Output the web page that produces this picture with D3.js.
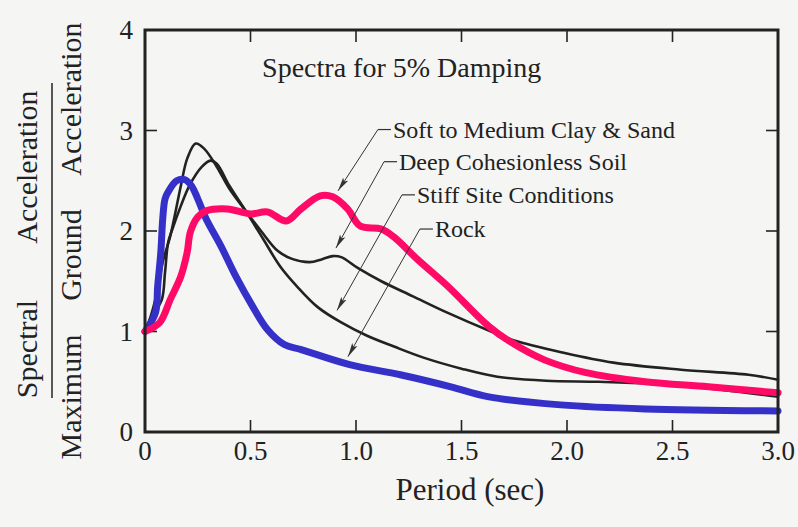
<!DOCTYPE html>
<html>
<head>
<meta charset="utf-8">
<script src="https://cdn.jsdelivr.net/npm/d3@7"></script>
<style>
  html, body { margin: 0; padding: 0; background: #f5f5f4; }
  svg { display: block; }
  text { font-family: "Liberation Serif", "DejaVu Serif", serif; fill: #222; }
</style>
</head>
<body>
<svg id="chart" width="798" height="527"></svg>
<script>
// Normalised response spectra (Sa / PGA) for 5% damping, by site condition.
// Each entry: [period (sec), spectral ratio]
const softClaySand = [
  [0, 1.0], [0.07, 1.09], [0.12, 1.32], [0.17, 1.55], [0.20, 1.79], [0.215, 1.99],
  [0.25, 2.14], [0.29, 2.20], [0.39, 2.22], [0.50, 2.17], [0.58, 2.19], [0.67, 2.10],
  [0.74, 2.22], [0.83, 2.35], [0.89, 2.34], [0.96, 2.22], [1.02, 2.05], [1.12, 2.02],
  [1.18, 1.94], [1.29, 1.72], [1.43, 1.46], [1.63, 1.05], [1.73, 0.90], [1.89, 0.72],
  [2.09, 0.59], [2.37, 0.50], [2.67, 0.45], [3.0, 0.39]
];
const deepCohesionless = [
  [0, 1.0], [0.03, 1.17], [0.06, 1.42], [0.085, 1.70], [0.12, 1.95], [0.17, 2.45],
  [0.20, 2.72], [0.24, 2.87], [0.28, 2.82], [0.34, 2.64], [0.40, 2.42], [0.47, 2.22],
  [0.55, 2.00], [0.63, 1.80], [0.70, 1.72], [0.78, 1.69], [0.84, 1.72], [0.89, 1.75],
  [0.93, 1.74], [1.01, 1.63], [1.12, 1.50], [1.27, 1.35], [1.43, 1.19], [1.64, 1.00],
  [1.75, 0.91], [1.98, 0.79], [2.22, 0.69], [2.54, 0.62], [2.86, 0.57], [3.0, 0.52]
];
const stiffSite = [
  [0, 1.0], [0.04, 1.17], [0.08, 1.32], [0.095, 1.59], [0.11, 1.89], [0.13, 2.02],
  [0.17, 2.25], [0.21, 2.45], [0.27, 2.64], [0.31, 2.70], [0.34, 2.67], [0.40, 2.45],
  [0.48, 2.19], [0.56, 1.92], [0.64, 1.65], [0.72, 1.45], [0.82, 1.24], [0.93, 1.09],
  [1.05, 0.96], [1.18, 0.85], [1.32, 0.74], [1.50, 0.63], [1.67, 0.55], [1.90, 0.51],
  [2.15, 0.50], [2.40, 0.48], [2.68, 0.43], [3.0, 0.35]
];
const rock = [
  [0, 1.0], [0.05, 1.19], [0.06, 1.45], [0.075, 1.79], [0.084, 2.12], [0.095, 2.32],
  [0.11, 2.39], [0.15, 2.50], [0.19, 2.51], [0.22, 2.45], [0.25, 2.32], [0.29, 2.12],
  [0.36, 1.85], [0.43, 1.55], [0.51, 1.25], [0.58, 1.02], [0.66, 0.87], [0.74, 0.82],
  [0.97, 0.67], [1.21, 0.57], [1.45, 0.45], [1.63, 0.35], [1.97, 0.27], [2.37, 0.23],
  [3.0, 0.21]
];

const xTicks = [0, 0.5, 1.0, 1.5, 2.0, 2.5, 3.0];
const xTickLabels = ["0", "0.5", "1.0", "1.5", "2.0", "2.5", "3.0"];
const yTicks = [0, 1, 2, 3, 4];
const yTickLabels = ["0", "1", "2", "3", "4"];

// Callout labels: text anchor and arrow tip, both in data units
const siteNames = ["Soft to Medium Clay & Sand", "Deep Cohesionless Soil", "Stiff Site Conditions", "Rock"];
const labelAnchors = [[1.175, 2.93], [1.204, 2.61], [1.289, 2.28], [1.374, 1.94]];
const arrowTips = [[0.915, 2.40], [0.905, 1.83], [0.91, 1.21], [0.962, 0.75]];

const titleText = "Spectra for 5% Damping";
const xTitle = "Period (sec)";

const svg = d3.select("#chart");
const W = 798, H = 527;
const plot = { left: 145, right: 778, top: 30, bottom: 432 };

const x = d3.scaleLinear().domain([0, 3]).range([plot.left, plot.right]);
const y = d3.scaleLinear().domain([0, 4]).range([plot.bottom, plot.top]);

svg.append("rect").attr("width", W).attr("height", H).attr("fill", "#f5f5f4");

const ink = "#222";
const tickLen = 12;

// Inner ticks on all four sides
const inner = svg.append("g").attr("stroke", ink).attr("stroke-width", 1.6);
xTicks.slice(1, -1).forEach(t => {
  inner.append("line").attr("x1", x(t)).attr("x2", x(t)).attr("y1", y(0)).attr("y2", y(0) - tickLen);
  inner.append("line").attr("x1", x(t)).attr("x2", x(t)).attr("y1", y(4)).attr("y2", y(4) + tickLen);
});
yTicks.slice(1, -1).forEach(t => {
  inner.append("line").attr("x1", x(0)).attr("x2", x(0) + tickLen).attr("y1", y(t)).attr("y2", y(t));
  inner.append("line").attr("x1", x(3)).attr("x2", x(3) - tickLen).attr("y1", y(t)).attr("y2", y(t));
});

// Tick labels
svg.append("g").selectAll("text").data(xTicks).join("text")
  .attr("x", d => x(d)).attr("y", 460)
  .attr("text-anchor", "middle").attr("font-size", 27)
  .text((d, i) => xTickLabels[i]);
svg.append("g").selectAll("text").data(yTicks).join("text")
  .attr("x", 133).attr("y", d => y(d) + 9)
  .attr("text-anchor", "end").attr("font-size", 27)
  .text((d, i) => yTickLabels[i]);

// Spectra curves
const line = d3.line().x(d => x(d[0])).y(d => y(d[1])).curve(d3.curveCatmullRom.alpha(0.5));
const curves = svg.append("g").attr("fill", "none").attr("stroke-linecap", "round").attr("stroke-linejoin", "round");
curves.append("path").datum(deepCohesionless).attr("d", line).attr("stroke", ink).attr("stroke-width", 2.6);
curves.append("path").datum(stiffSite).attr("d", line).attr("stroke", ink).attr("stroke-width", 2.6);
curves.append("path").datum(rock).attr("d", line).attr("stroke", "#3430c8").attr("stroke-width", 7);
curves.append("path").datum(softClaySand).attr("d", line).attr("stroke", "#ff0a66").attr("stroke-width", 7);

// Frame
svg.append("rect")
  .attr("x", plot.left).attr("y", plot.top)
  .attr("width", plot.right - plot.left).attr("height", plot.bottom - plot.top)
  .attr("fill", "none").attr("stroke", ink).attr("stroke-width", 3);

// Title inside the plot
svg.append("text").attr("x", x(0.555)).attr("y", y(3.53))
  .attr("font-size", 28).text(titleText);

// Callouts with leader arrows
const defs = svg.append("defs");
defs.append("marker").attr("id", "arrowhead")
  .attr("viewBox", "0 0 14 8").attr("refX", 14).attr("refY", 4)
  .attr("markerWidth", 14).attr("markerHeight", 8)
  .attr("markerUnits", "userSpaceOnUse").attr("orient", "auto")
  .append("path").attr("d", "M0,1 L14,4 L0,7 L3,4 Z").attr("fill", "#333");

const callouts = svg.append("g");
siteNames.forEach((name, i) => {
  const tx = x(labelAnchors[i][0]), ty = y(labelAnchors[i][1]);
  const dashY = ty - 8, dashL = tx - 15, dashR = tx - 2;
  callouts.append("line").attr("x1", dashL).attr("x2", dashR).attr("y1", dashY).attr("y2", dashY)
    .attr("stroke", "#333").attr("stroke-width", 1.2);
  callouts.append("line").attr("x1", dashL).attr("y1", dashY)
    .attr("x2", x(arrowTips[i][0])).attr("y2", y(arrowTips[i][1]))
    .attr("stroke", "#333").attr("stroke-width", 1)
    .attr("marker-end", "url(#arrowhead)");
  callouts.append("text").attr("x", tx).attr("y", ty).attr("font-size", 24).text(name);
});

// X axis title
svg.append("text").attr("x", 470).attr("y", 500).attr("text-anchor", "middle")
  .attr("font-size", 31).text(xTitle);

// Y axis title as a fraction: Spectral Acceleration / Maximum Ground Acceleration
const yTitle = svg.append("g").attr("font-size", 30);
const vword = (word, bx, cy) => yTitle.append("text")
  .attr("transform", `translate(${bx},${cy}) rotate(-90)`)
  .attr("text-anchor", "middle").text(word);
vword("Spectral", 37, 349);
vword("Acceleration", 37, 167);
vword("Maximum", 81, 397);
vword("Ground", 81, 255);
vword("Acceleration", 81, 99);
svg.append("line").attr("x1", 52).attr("x2", 52).attr("y1", 83).attr("y2", 398)
  .attr("stroke", ink).attr("stroke-width", 1.5);
</script>
</body>
</html>
